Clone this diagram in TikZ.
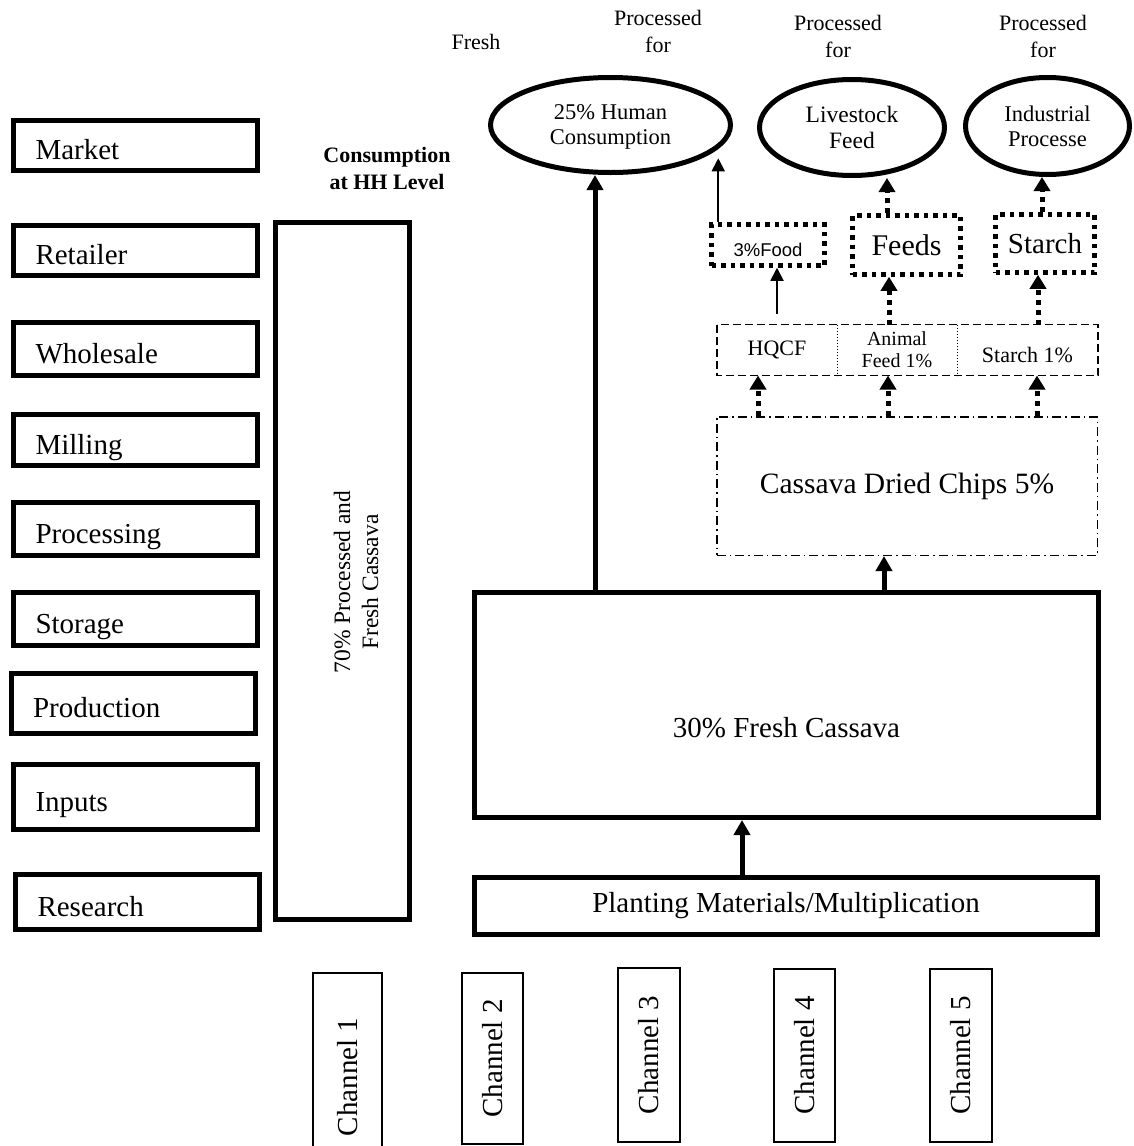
\documentclass[tikz,border=0pt]{standalone}
\usepackage{fontspec}
\setmainfont{Liberation Serif}
\newfontfamily\arialfont{Liberation Sans}
\usepackage{tikz}
\usetikzlibrary{positioning,arrows.meta,shapes.geometric}

\begin{document}
\begin{tikzpicture}[x=1pt, y=-1pt,
  lvl/.style={draw, line width=5pt, minimum height=50pt, text width=200pt, text height=28pt, text depth=0pt, inner xsep=22pt, inner ysep=0pt, align=left, font=\fontsize{29}{34}\selectfont},
  bigbox/.style={draw, line width=5pt, inner sep=0pt, align=center, font=\fontsize{29}{34}\selectfont},
  oval/.style={draw, ellipse, line width=5pt, inner sep=0pt, text depth=0pt, align=center, font=\fontsize{22.5}{25}\selectfont},
  dotbox/.style={draw, line width=4.5pt, dash pattern=on 4.5pt off 5pt, inner sep=0pt, align=center},
  cell/.style={minimum height=51pt, inner sep=0pt, outer sep=0pt, align=center, font=\fontsize{22}{24}\selectfont},
  chan/.style={draw, line width=2pt, rotate=90, inner sep=0pt, font=\fontsize{29}{34}\selectfont},
  lbl/.style={align=center, font=\fontsize{22}{27}\selectfont},
  arr/.style={-{Triangle[length=15pt,width=16pt]}, line width=5pt},
  dotarr/.style={-{Triangle[length=14pt,width=16pt]}, line width=5pt, dash pattern=on 5pt off 5pt},
  thinarr/.style={-{Triangle[length=13pt,width=13pt]}, line width=1.8pt}]
\useasboundingbox (0,0) rectangle (1133,1146);
\clip (0,0) rectangle (1133,1146);
\node[lvl] (mkt) at (135.5,145.5) {Market};
\node[lvl] (ret) at (135.5,250.5) {Retailer};
\node[lvl, minimum height=53pt] (whs) at (135.5,349) {Wholesale};
\node[lvl, minimum height=51pt] (mil) at (135.5,440) {Milling};
\node[lvl, minimum height=53pt] (prc) at (135.5,529) {Processing};
\node[lvl, minimum height=53pt] (sto) at (135.5,619) {Storage};
\node[lvl, minimum height=60pt] (prd) at (133,703.5) {Production};
\node[lvl, minimum height=65pt] (inp) at (135.5,797) {Inputs};
\node[lvl, minimum height=55pt] (res) at (137.5,902) {Research};
\node[lbl, font=\bfseries\fontsize{22}{27}\selectfont] (hhlbl) at (387,168) {Consumption\\at HH Level};
\node[draw, line width=5pt, minimum width=134pt, minimum height=697pt, inner sep=0pt] (hh) at (342.5,571) {};
\node[rotate=90, align=center, font=\fontsize{23.5}{28}\selectfont] (hhtxt) at (356,582) {70\% Processed and\\Fresh Cassava};
\node[bigbox, minimum width=623pt, minimum height=57pt] (plant) at (786,906) {Planting Materials/Multiplication};
\node[bigbox, minimum width=624pt, minimum height=225pt, text height=64pt, text depth=0pt] (fresh) at (786.5,705) {30\% Fresh Cassava};
\node[draw, line width=1.5pt, dash pattern=on 9pt off 4pt on 1.5pt off 4pt, minimum width=380.5pt, minimum height=138.5pt, inner sep=0pt, font=\fontsize{29.5}{34}\selectfont] (chips) at (907,486) {Cassava Dried Chips 5\%};
\node[cell, minimum width=120pt] (hqcf) at (777,350) {HQCF};
\node[cell, minimum width=120pt, font=\fontsize{20}{22}\selectfont, right=0pt of hqcf] (afeed) {Animal\\Feed 1\%};
\node[cell, minimum width=141pt, text height=24pt, text depth=0pt, right=0pt of afeed] (st1) {Starch 1\%};
\draw[line width=1.3pt, dash pattern=on 8pt off 4pt] (hqcf.north west) rectangle (st1.south east);
\draw[line width=1pt, dash pattern=on 1pt off 2pt] (hqcf.north east) -- (hqcf.south east);
\draw[line width=1pt, dash pattern=on 1pt off 2pt] (afeed.north east) -- (afeed.south east);
\node[dotbox, minimum width=113pt, minimum height=41pt, text height=22pt, text depth=0pt, font=\arialfont\fontsize{18.5}{22}\selectfont] (food) at (768,245) {3\%Food};
\node[dotbox, minimum width=108pt, minimum height=59pt, font=\fontsize{30}{34}\selectfont] (feeds) at (906.5,245) {Feeds};
\node[dotbox, minimum width=99pt, minimum height=58pt, font=\fontsize{29}{34}\selectfont] (starch) at (1045,243.5) {Starch};
\node[oval, minimum width=240pt, minimum height=95pt] (human) at (610.5,125) {25\% Human\\Consumption};
\node[oval, minimum width=185pt, minimum height=96pt, font=\fontsize{23.5}{26}\selectfont] (live) at (852,127.5) {Livestock\\Feed};
\node[oval, minimum width=164pt, minimum height=97pt] (ind) at (1047.5,126) {Industrial\\Processe};
\node[lbl] (tfresh) at (476,42) {Fresh};
\node[lbl] (tproc1) at (658,31.5) {Processed\\for};
\node[lbl] (tproc2) at (838,36) {Processed\\for};
\node[lbl] (tproc3) at (1043,36) {Processed\\for};
\node[chan, minimum width=208pt, minimum height=69pt] (ch1) at (347.5,1077) {Channel 1};
\node[chan, minimum width=171pt, minimum height=61pt] (ch2) at (492.5,1058.5) {Channel 2};
\node[chan, minimum width=174pt, minimum height=62pt] (ch3) at (649,1055) {Channel 3};
\node[chan, minimum width=173pt, minimum height=61pt] (ch4) at (804.5,1055.5) {Channel 4};
\node[chan, minimum width=173pt, minimum height=62pt] (ch5) at (961,1055.5) {Channel 5};
\draw[arr] ([xshift=-44pt]plant.north) -- ([xshift=-44pt]plant.north |- fresh.south);
\draw[arr] ([xshift=-15.5pt]human.south |- fresh.north) -- ([xshift=-15.5pt]human.south);
\draw[arr] ([xshift=-23pt]chips.south |- fresh.north) -- ([xshift=-23pt]chips.south);
\draw[dotarr] ([xshift=-19pt]hqcf.south |- chips.north) -- ([xshift=-19pt]hqcf.south);
\draw[dotarr] ([xshift=-9pt]afeed.south |- chips.north) -- ([xshift=-9pt]afeed.south);
\draw[dotarr] ([xshift=9.5pt]st1.south |- chips.north) -- ([xshift=9.5pt]st1.south);
\draw[thinarr, shorten <=11pt] (hqcf.north) -- (hqcf.north |- food.south);
\draw[dotarr] ([xshift=-8pt]afeed.north) -- ([xshift=-8pt]afeed.north |- feeds.south);
\draw[dotarr] ([xshift=10.5pt]st1.north) -- ([xshift=10.5pt]st1.north |- starch.south);
\draw[thinarr] ([xshift=9pt]food.north west) -- ([xshift=9pt]food.north west |- human.-20);
\draw[dotarr] ([xshift=-19.5pt]feeds.north) -- ([xshift=-19.5pt]feeds.north |- live.south);
\draw[dotarr] ([xshift=-3pt]starch.north) -- ([xshift=-3pt]starch.north |- ind.south);
\end{tikzpicture}
\end{document}
